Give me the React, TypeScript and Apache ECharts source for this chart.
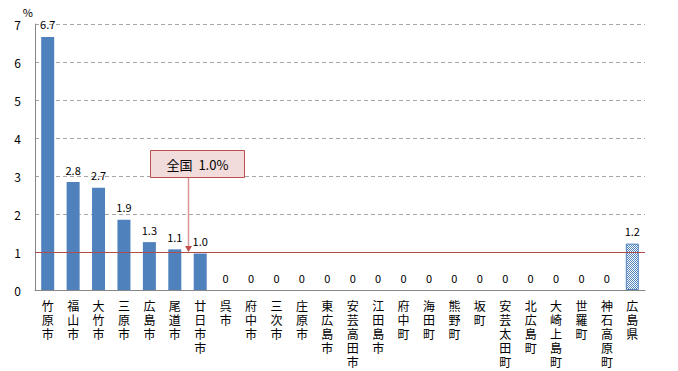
import React, { useEffect, useRef } from "react";
import * as echarts from "echarts";

const categories = [
  "竹原市", "福山市", "大竹市", "三原市", "広島市", "尾道市", "廿日市市", "呉市",
  "府中市", "三次市", "庄原市", "東広島市", "安芸高田市", "江田島市", "府中町", "海田町",
  "熊野町", "坂町", "安芸太田町", "北広島町", "大崎上島町", "世羅町", "神石高原町", "広島県",
];
const values = [
  6.66, 2.84, 2.69, 1.85, 1.26, 1.07, 0.96, 0,
  0, 0, 0, 0, 0, 0, 0, 0,
  0, 0, 0, 0, 0, 0, 0, 1.22,
];
const nationalValue = 1.0;
const nationalLabel = "全国  1.0%";
const yTicks = [0, 1, 2, 3, 4, 5, 6, 7];

function makePattern(): string {
  const c = document.createElement("canvas");
  c.width = 4;
  c.height = 4;
  const ctx = c.getContext("2d")!;
  ctx.fillStyle = "#ffffff";
  ctx.fillRect(0, 0, 4, 4);
  ctx.fillStyle = "#4f81bd";
  ctx.fillRect(0, 0, 1, 1);
  ctx.fillRect(2, 0, 1, 1);
  ctx.fillRect(1, 1, 1, 1);
  ctx.fillRect(3, 1, 1, 1);
  ctx.fillRect(0, 2, 1, 1);
  ctx.fillRect(2, 2, 1, 1);
  ctx.fillRect(1, 3, 1, 1);
  ctx.fillRect(3, 3, 1, 1);
  return c.toDataURL();
}

export default function App() {
  const ref = useRef<HTMLDivElement>(null);
  useEffect(() => {
    if (!ref.current) return;
    const chart = echarts.init(ref.current, undefined, { renderer: "svg" });
    const font = "'Noto Sans CJK JP', sans-serif";
    const pattern = makePattern();
    const data = values.map((v, i) =>
      i === values.length - 1
        ? {
            value: v,
            itemStyle: {
              color: { image: pattern, repeat: "repeat" } as any,
              borderColor: "#4f81bd",
              borderWidth: 1,
            },
          }
        : { value: v }
    );
    chart.setOption({
      animation: false,
      textStyle: { fontFamily: font },
      grid: { left: 35, right: 33, top: 24, bottom: 81 },
      xAxis: {
        type: "category",
        data: categories,
        axisLine: { lineStyle: { color: "#868686" } },
        axisTick: { length: 4, lineStyle: { color: "#868686" } },
        axisLabel: {
          interval: 0,
          color: "#000",
          fontSize: 12,
          lineHeight: 14,
          margin: 8,
          fontFamily: font,
          formatter: (s: string) => s.split("").join("\n"),
        },
      },
      yAxis: {
        type: "value",
        min: 0,
        max: 7,
        interval: 1,
        name: "%",
        nameLocation: "end",
        nameGap: 7,
        nameTextStyle: { color: "#000", fontSize: 11, align: "right", padding: [0, 2, 0, 0] },
        axisLine: { show: true, lineStyle: { color: "#868686" } },
        axisTick: { show: false },
        axisLabel: {
          color: "#000",
          fontSize: 12,
          margin: 14,
          fontFamily: font,
          formatter: (v: number) => (yTicks.includes(v) ? String(v) : ""),
        },
        splitLine: { lineStyle: { color: "#a6a6a6", type: [4, 3] } },
      },
      series: [
        {
          type: "bar",
          data,
          barWidth: 13,
          itemStyle: { color: "#4f81bd" },
          label: {
            show: true,
            position: "top",
            distance: 7,
            color: "#000",
            fontSize: 11,
            fontFamily: font,
            formatter: (p: any) => (p.value === 0 ? "0" : (Math.round(p.value * 10) / 10).toFixed(1)),
          },
          markLine: {
            silent: true,
            symbol: "none",
            label: { show: false },
            lineStyle: { color: "#b04c4a", type: "solid", width: 1 },
            data: [{ yAxis: nationalValue }],
          },
        },
      ],
    });

    const [x5] = chart.convertToPixel({ xAxisIndex: 0, yAxisIndex: 0 }, [5, nationalValue]) as number[];
    const [x6, yLine] = chart.convertToPixel({ xAxisIndex: 0, yAxisIndex: 0 }, [6, nationalValue]) as number[];
    const ax = Math.round((x5 + x6) / 2) + 0.5;
    const boxTop = 150;
    const boxH = 27;
    chart.setOption({
      graphic: [
        {
          type: "rect",
          shape: { x: 150.5, y: boxTop + 0.5, width: 94, height: boxH },
          style: { fill: "#f2dcdb", stroke: "#c0504d", lineWidth: 1 },
          z: 100,
        },
        {
          type: "text",
          x: 197.5,
          y: boxTop + boxH / 2 + 0.5,
          style: {
            text: nationalLabel,
            fill: "#000",
            font: `13px ${font}`,
            align: "center",
            verticalAlign: "middle",
          },
          z: 101,
        },
        {
          type: "line",
          shape: { x1: ax, y1: boxTop + boxH + 1, x2: ax, y2: yLine - 5 },
          style: { stroke: "#d99694", lineWidth: 1.5 },
          z: 100,
        },
        {
          type: "polygon",
          shape: { points: [[ax - 3.5, yLine - 6], [ax + 3.5, yLine - 6], [ax, yLine]] },
          style: { fill: "#c0504d" },
          z: 100,
        },
      ],
    });
    return () => chart.dispose();
  }, []);
  return (
    <div
      ref={ref}
      style={{ position: "absolute", left: 0, top: 0, width: 678, height: 371, background: "#fff" }}
    />
  );
}
